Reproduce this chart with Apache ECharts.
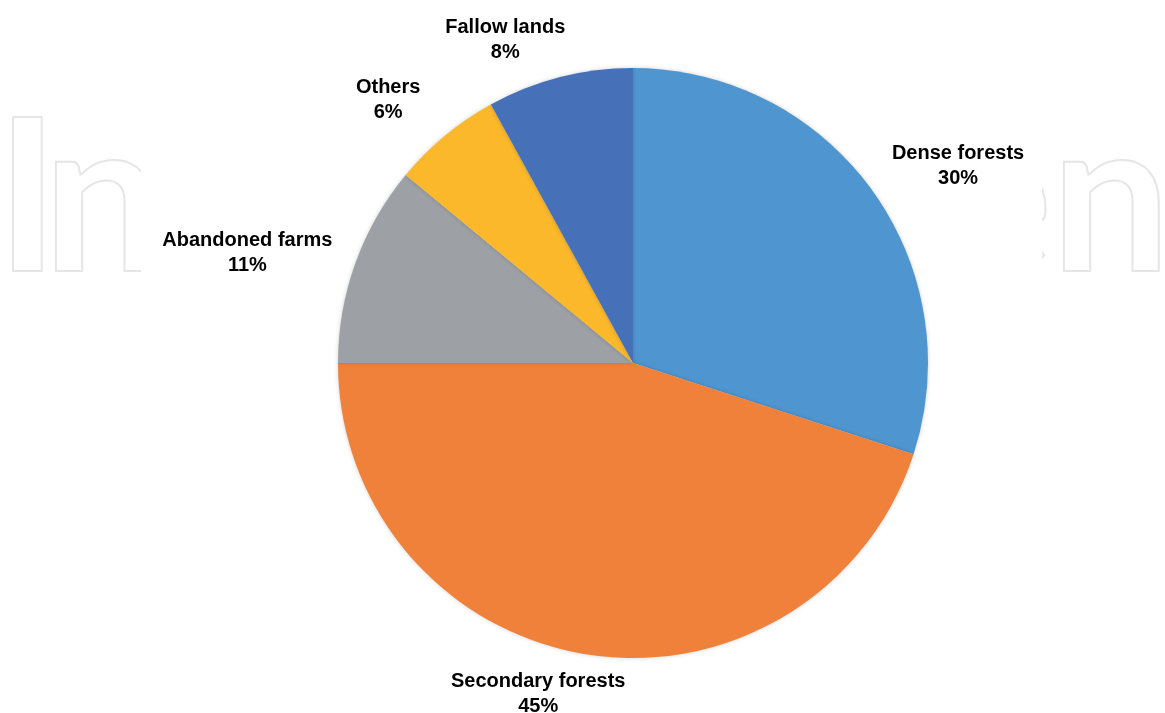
<!DOCTYPE html>
<html>
<head>
<meta charset="utf-8">
<script src="https://cdn.jsdelivr.net/npm/echarts@6/dist/echarts.min.js"></script>
<style>
  html, body { margin: 0; padding: 0; background: #fff; }
  #chart { width: 1165px; height: 713px; }
</style>
</head>
<body>
<div id="chart"></div>
<script>
const categories = ["Dense forests", "Secondary forests", "Abandoned farms", "Others", "Fallow lands"];
const shares = [30, 45, 11, 6, 8];
const sliceColors = ["#4f96d1", "#f0813a", "#9da0a4", "#fbb82a", "#4670b8"];

// where each label sits: radius from centre and angular nudge off the slice middle (deg)
const labelRadius = [380, 344, 401, 359, 347];
const labelNudge = [4.8, 7, -3.9, -3.4, -7.2];

const center = [633, 363];
const radius = 295;

const total = shares.reduce((a, b) => a + b, 0);
const midAngles = [];
let acc = 0;
shares.forEach((v) => {
  midAngles.push(((acc + v / 2) / total) * 360);
  acc += v;
});

const watermarkStyle = {
  font: "bold 212px Lato",
  fill: "transparent",
  stroke: "#e6e6e6",
  lineWidth: 2,
};
function mark(text, left) {
  return { type: "text", left: left, top: 96, z: -10, style: Object.assign({ text: text }, watermarkStyle) };
}

const chart = echarts.init(document.getElementById("chart"));

chart.setOption({
  backgroundColor: "#fff",
  animation: false,
  graphic: [
    mark("I", -5),
    mark("n", 42),
    mark("e", 938),
    mark("n", 1050),
    // the faded watermark is cut off around the chart body
    { type: "rect", z: -5, shape: { x: 141, y: 90, width: 260, height: 220 }, style: { fill: "#fff" } },
    { type: "rect", z: -5, shape: { x: 860, y: 90, width: 182, height: 220 }, style: { fill: "#fff" } },
  ],
  series: [
    {
      type: "pie",
      center: center,
      radius: radius,
      startAngle: 90,
      clockwise: true,
      data: categories.map((name, i) => ({
        name: name,
        value: shares[i],
        itemStyle: { color: sliceColors[i] },
      })),
      itemStyle: {
        shadowBlur: 4,
        shadowColor: "rgba(0,0,0,0.18)",
      },
      label: {
        show: true,
        position: "outside",
        formatter: "{b}\n{d}%",
        color: "#000",
        fontFamily: "Liberation Sans",
        fontWeight: "bold",
        fontSize: 20,
        lineHeight: 25,
        backgroundColor: "#fff",
      },
      labelLine: { show: false },
      labelLayout: function (params) {
        const i = params.dataIndex;
        const a = ((midAngles[i] + labelNudge[i]) * Math.PI) / 180;
        return {
          x: center[0] + labelRadius[i] * Math.sin(a),
          y: center[1] - labelRadius[i] * Math.cos(a),
          align: "center",
          verticalAlign: "middle",
        };
      },
      emphasis: { disabled: true },
    },
  ],
});
</script>
</body>
</html>
